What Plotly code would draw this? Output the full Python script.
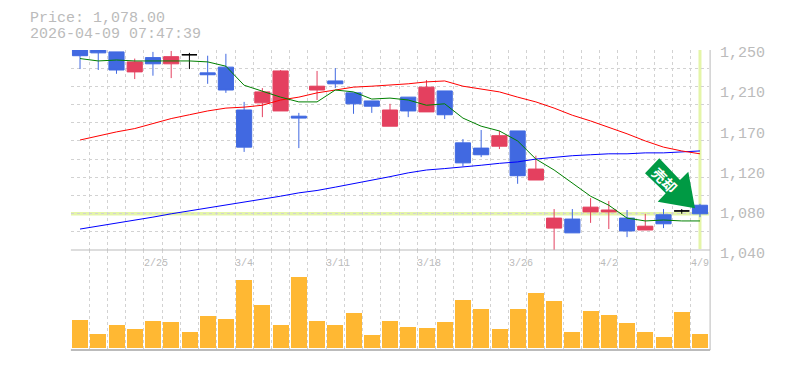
import plotly.graph_objects as go

W, H = 785, 370
INDEX = list(range(35))

OPEN = [1253,1252,1248,1227,1242,1235.5,1245,1226,1232,1187,1194.5,1186,1180.5,1208,1217.5,1205,1196.5,1170,1200.5,1185,1207,1152.5,1147,1149,1165,1113.5,1063,1072.5,1080,1080,1073.5,1061,1077,1081,1087]
HIGH = [1255,1254,1248,1241,1248,1249,1247,1244,1246,1195.5,1210,1229,1184,1228,1231,1205,1196.5,1193.5,1200.5,1218.5,1207,1156.5,1166,1165,1165,1139,1083,1083,1094.5,1091.5,1082,1078,1083,1083,1088.5]
LOW = [1230,1229,1225,1219.5,1223,1220.5,1230,1214.5,1205,1143,1179.5,1186,1147,1197.5,1210,1183,1184,1170,1179.5,1185,1177.5,1128,1137.5,1146,1109.5,1113.5,1040,1058,1068.5,1062,1053.5,1061,1063,1078,1074.5]
CLOSE = [1244,1247,1229,1237.5,1235.5,1243,1245,1224,1208,1148,1206,1228,1178.5,1212,1214.5,1193.5,1191,1187,1186,1211,1182,1131.5,1140,1160,1118,1125,1073.5,1058,1085,1082,1060,1065,1067.5,1081,1078]

MA_GREEN = [1241,1238.5,1239.5,1238.5,1238.5,1238.5,1238.5,1237.5,1233,1213,1207,1200.5,1195.5,1195.5,1208,1206,1198.5,1199.5,1197.5,1192,1193.5,1178.5,1170,1165,1154.5,1135.5,1124,1110.5,1096.5,1087,1073.5,1070.5,1071.5,1070.5,1070.5]
MA_RED = [1155.5,1160,1164,1167.5,1172.5,1178,1182,1186,1189,1190,1192,1197.5,1200.5,1205,1208,1211,1212,1213,1214.5,1216.5,1217.5,1212,1209,1206,1200.5,1195.5,1189,1181.5,1175.5,1169,1162,1154.5,1148,1144,1141]
MA_BLUE = [1062,1065,1068.5,1071.5,1074.5,1078,1081,1084,1087,1090.5,1093.5,1096.5,1100,1102.5,1106,1109.5,1113.5,1117,1121,1124,1125.5,1127,1129,1131,1132.5,1135.5,1137.5,1139,1140,1141,1141,1142,1142,1143,1144]
VOLUME = [28,14,23,19,27,26,16,32,29,68,43,23,71,27,23,35,13,27,21,20,26,48,39,19,39,55,47,16,37,33,25,16,11,36,14]

Y_LABELS = ["1,250","1,210","1,170","1,120","1,080","1,040"]
Y_LABEL_VALUES = [1250,1208,1166,1124,1082,1040]
X_LABELS = ["2/25","3/4","3/11","3/18","3/26","4/2","4/9"]
X_LABEL_EDGES = [3.5,8.5,13.5,18.5,23.5,28.5,33.5]
CURRENT = 1078
TITLE_LINES = ["Price: 1,078.00","2026-04-09 07:47:39"]
ARROW_TEXT = "売却"

FONT = "Liberation Mono"
GREY = "#bbbbbb"
GRID = "#d2d2d2"
L, R, T, M, B = 70.9, 709.1, 50, 250, 350

def px(x): return x / W
def py(y): return 1 - y / H

def candle(idx, up, down):
    return go.Candlestick(
        x=idx, open=[OPEN[i] for i in idx], high=[HIGH[i] for i in idx],
        low=[LOW[i] for i in idx], close=[CLOSE[i] for i in idx],
        increasing=dict(line=dict(color=up, width=1), fillcolor=up),
        decreasing=dict(line=dict(color=down, width=1), fillcolor=down),
        whiskerwidth=0, showlegend=False, xaxis="x", yaxis="y", hoverinfo="skip")

fig = go.Figure()
for series, color in ((MA_BLUE, "#0000ff"), (MA_RED, "#ff0000")):
    fig.add_trace(go.Scatter(x=INDEX, y=series, mode="lines", line=dict(color=color, width=1), showlegend=False))
black = [i for i in INDEX if OPEN[i] == CLOSE[i]]
colored = [i for i in INDEX if OPEN[i] != CLOSE[i]]
fig.add_trace(candle(colored, "#e4405f", "#4169e1"))
fig.add_trace(candle(black, "#000000", "#000000"))
fig.add_trace(go.Scatter(x=INDEX, y=MA_GREEN, mode="lines", line=dict(color="#008000", width=1), showlegend=False))
fig.add_trace(go.Bar(x=INDEX, y=VOLUME, marker=dict(color="#ffb833", line=dict(width=0)), width=16/18.23,
                     xaxis="x2", yaxis="y2", showlegend=False))

grid_x = [k - 0.5 for k in INDEX]
grid_y = [1250 - k * 210 / 11 for k in range(12)]
common_x = dict(range=[-0.5, 34.5], tickmode="array", tickvals=grid_x, showticklabels=False, ticks="",
                showgrid=True, gridcolor=GRID, griddash="3px,3px", gridwidth=1, zeroline=False, rangeslider=dict(visible=False))
annotations = []
for i, text in enumerate(TITLE_LINES):
    annotations.append(dict(x=px(28), y=py(18.5 + 16 * i), xref="paper", yref="paper", text=text, showarrow=False,
                            xanchor="left", yanchor="middle", font=dict(family=FONT, size=15, color=GREY)))
for v, text in zip(Y_LABEL_VALUES, Y_LABELS):
    annotations.append(dict(x=px(718), y=v, xref="paper", yref="y", yshift=-4, text=text, showarrow=False,
                            xanchor="left", yanchor="middle", font=dict(family=FONT, size=15, color=GREY)))
for v, text in zip(X_LABEL_EDGES, X_LABELS):
    annotations.append(dict(x=v, y=py(263), xref="x2", yref="paper", xshift=-2, text=text, showarrow=False,
                            xanchor="left", yanchor="middle", font=dict(family=FONT, size=10, color=GREY)))
annotations.append(dict(x=px(665), y=py(180), xref="paper", yref="paper", text="<b>" + ARROW_TEXT + "</b>", showarrow=False, textangle=45,
                        xanchor="center", yanchor="middle", font=dict(family="Noto Sans CJK JP", size=14, color="#ffffff")))

arrow = [(645,173.3),(659.3,158.3),(680,180),(688.3,171.7),(695,208.3),(657.7,201.7),(665.7,193.3)]
path = "M " + " L ".join(f"{px(x):.5f},{py(y):.5f}" for x, y in arrow) + " Z"
shapes = [
    dict(type="line", xref="x", yref="y", x0=-0.5, x1=34.5, y0=CURRENT, y1=CURRENT, layer="below",
         line=dict(color="#e4f5a8", width=3.5)),
    dict(type="line", xref="x", yref="y", x0=34, x1=34, y0=1041, y1=1250, layer="below",
         line=dict(color="#e4f5a8", width=3)),
    dict(type="path", xref="paper", yref="paper", path=path, fillcolor="#009a44", line=dict(width=0)),
    dict(type="line", xref="paper", yref="paper", x0=px(L), x1=px(R+1), y0=py(M), y1=py(M), line=dict(color=GREY, width=1)),
    dict(type="line", xref="paper", yref="paper", x0=px(L), x1=px(R+1), y0=py(B), y1=py(B), line=dict(color=GREY, width=2)),
    dict(type="line", xref="paper", yref="paper", x0=px(R+1), x1=px(R+1), y0=py(T), y1=py(B), line=dict(color=GREY, width=1)),
]

fig.update_layout(
    width=W, height=H, margin=dict(l=0, r=0, t=0, b=0), paper_bgcolor="#ffffff", plot_bgcolor="#ffffff",
    boxgap=0.17, boxgroupgap=0, boxmode="overlay", bargap=0, showlegend=False, annotations=annotations, shapes=shapes,
    xaxis=dict(domain=[px(L), px(R)], anchor="y", **common_x),
    xaxis2=dict(domain=[px(L), px(R)], anchor="y2", matches="x", **common_x),
    yaxis=dict(domain=[py(M), py(T)], range=[1040, 1250], tickmode="array", tickvals=grid_y, showticklabels=False,
               ticks="", showgrid=True, gridcolor=GRID, griddash="3px,3px", gridwidth=1, zeroline=False),
    yaxis2=dict(domain=[py(B), py(M)], range=[-2.3, 97.7], showticklabels=False, ticks="", showgrid=False, zeroline=False),
)
fig.write_html("out.html", config=dict(displayModeBar=False), post_script="document.body.style.margin='0';")
